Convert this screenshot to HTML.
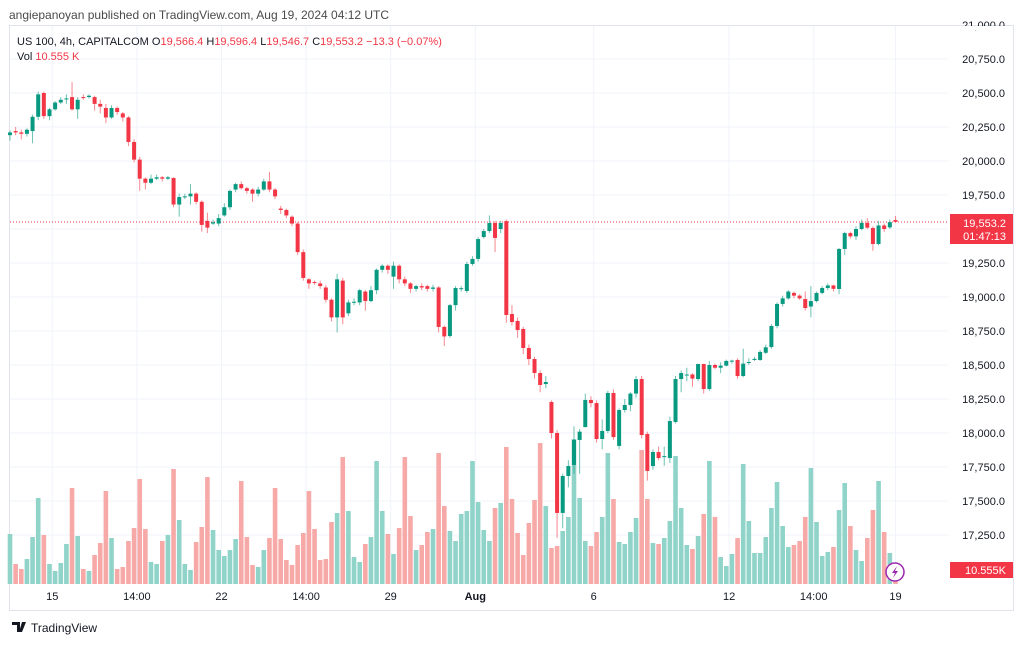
<!DOCTYPE html>
<html><head><meta charset="utf-8"><style>
body{margin:0;background:#fff;width:1024px;height:643px;overflow:hidden;font-family:"Liberation Sans",sans-serif}
svg text{font-family:"Liberation Sans",sans-serif}
</style></head><body>
<svg id="c" width="1024" height="643" viewBox="0 0 1024 643" xmlns="http://www.w3.org/2000/svg">
<text x="9" y="19" font-size="12" fill="#4a4a4a">angiepanoyan published on TradingView.com, Aug 19, 2024 04:12 UTC</text>
<rect x="9.5" y="25.5" width="1004" height="585" fill="none" stroke="#e0e3eb"/>
<g id="grid"></g>
<line x1="10" y1="222" x2="948" y2="222" stroke="#f23645" stroke-dasharray="1,2" stroke-width="1"/>
<g id="vols"></g>
<g id="candles"></g>
<g id="yaxis"></g>
<g id="xaxis"></g>
<g>
<text x="17" y="45" font-size="11" fill="#131722">US 100, 4h, CAPITALCOM <tspan fill="#131722">O</tspan><tspan fill="#f23645">19,566.4</tspan> <tspan fill="#131722">H</tspan><tspan fill="#f23645">19,596.4</tspan> <tspan fill="#131722">L</tspan><tspan fill="#f23645">19,546.7</tspan> <tspan fill="#131722">C</tspan><tspan fill="#f23645">19,553.2 −13.3 (−0.07%)</tspan></text>
<text x="17" y="60" font-size="11" fill="#131722">Vol <tspan fill="#f23645">10.555 K</tspan></text>
</g>
<g>
<rect x="950" y="214" width="63" height="30" fill="#f23645"/>
<text x="1006" y="227" font-size="11" fill="#fff" text-anchor="end">19,553.2</text>
<text x="1006" y="240" font-size="11" fill="#fff" text-anchor="end">01:47:13</text>
</g>
<g>
<rect x="950" y="562" width="63" height="16" fill="#f23645"/>
<text x="1006" y="574" font-size="11" fill="#fff" text-anchor="end">10.555K</text>
</g>
<g>
<circle cx="895" cy="572" r="9" fill="#fff" stroke="#9c27b0" stroke-width="1.5"/>
<path d="M897 566 L892 573 L895 573 L893 578 L898 571 L895 571 Z" fill="#9c27b0"/>
</g>
<g>
<path d="M12 622 h8 v10 h-3 v-7 h-5 z M22 622 h4 l-4 10 h-3 z" fill="#131722"/>
<text x="31" y="632" font-size="12" fill="#131722">TradingView</text>
</g>
</svg>
<script>
const priceTicks=[17250,17500,17750,18000,18250,18500,18750,19000,19250,19500,19750,20000,20250,20500,20750,21000];
const timeLabels=["15","14:00","22","14:00","29","Aug","6","12","14:00","19"];
const timeLabelIdx=[7.5,22.5,37.5,52.5,67.5,82.5,103.5,127.5,142.5,157];
const opens=[20190,20220,20210,20200,20220,20325,20500,20330,20380,20430,20455,20470,20380,20470,20470,20470,20420,20390,20320,20390,20350,20320,20140,20010,19870,19840,19870,19880,19870,19875,19680,19735,19740,19760,19700,19560,19540,19540,19600,19660,19790,19830,19800,19790,19760,19790,19850,19790,19650,19640,19590,19540,19330,19130,19110,19100,19070,18980,18850,19120,18880,18960,18960,19040,18970,19050,19200,19230,19150,19230,19130,19100,19060,19080,19080,19060,19070,18780,18713,18940,19060,19044,19243,19280,19441,19485,19544,19500,19558,18875,18824,18765,18625,18544,18441,18360,18228,18000,17412,17684,17765,17949,18044,18243,18220,17956,18015,18294,17905,18169,18206,18290,18397,17993,17757,17860,17825,17816,18081,18397,18425,18430,18397,18507,18323,18500,18480,18495,18528,18537,18419,18518,18537,18537,18590,18632,18787,18949,18990,19030,19010,18985,18930,18970,19030,19066,19085,19059,19353,19470,19446,19500,19545,19507,19390,19526,19512,19566];
const closes=[20210,20210,20200,20230,20325,20490,20330,20380,20430,20450,20460,20380,20450,20465,20480,20420,20400,20320,20390,20360,20320,20140,20010,19870,19840,19870,19880,19870,19880,19680,19735,19740,19760,19700,19530,19510,19550,19580,19660,19780,19830,19800,19780,19760,19790,19850,19790,19740,19640,19600,19540,19330,19140,19100,19105,19080,18980,18850,19130,18850,18960,18965,19050,18970,19050,19200,19230,19200,19230,19130,19100,19060,19080,19070,19060,19070,18780,18710,18940,19066,19065,19243,19280,19426,19485,19544,19434,19544,18868,18816,18757,18625,18544,18441,18353,18375,18000,17412,17684,17757,17949,18010,18243,18220,17956,18015,18294,17970,18169,18206,18290,18396,17985,17721,17860,17816,17830,18088,18397,18441,18430,18400,18507,18323,18500,18480,18495,18530,18532,18419,18510,18522,18545,18596,18630,18787,18949,18990,19040,19010,18990,18919,18970,19030,19066,19085,19060,19353,19470,19446,19500,19545,19510,19390,19526,19500,19550,19553];
const highs=[20225,20250,20230,20240,20340,20510,20510,20390,20440,20470,20490,20580,20470,20490,20490,20480,20450,20420,20410,20400,20360,20330,20160,20030,19880,19900,19900,19890,19890,19880,19760,19760,19830,19770,19710,19620,19570,19610,19690,19790,19840,19850,19810,19800,19810,19870,19920,19800,19670,19650,19600,19550,19350,19140,19120,19120,19090,18990,19170,19140,18980,18990,19060,19050,19080,19210,19240,19240,19260,19240,19150,19110,19090,19100,19090,19090,19080,18790,18950,19080,19080,19260,19300,19440,19500,19600,19560,19560,19570,18940,18850,18780,18650,18560,18460,18420,18240,18020,17700,17800,18050,18030,18290,18270,18240,18100,18310,18320,18180,18250,18300,18420,18420,18010,17880,17900,17900,18120,18420,18460,18480,18440,18510,18510,18530,18510,18520,18540,18540,18550,18620,18550,18560,18610,18650,18800,18960,19010,19050,19040,19020,19040,19080,19040,19080,19100,19090,19360,19480,19480,19520,19570,19580,19520,19560,19540,19570,19596];
const lows=[20150,20190,20160,20180,20130,20300,20310,20300,20370,20420,20420,20370,20310,20450,20460,20370,20350,20280,20310,20340,20290,20110,19990,19780,19790,19830,19860,19850,19860,19660,19590,19720,19680,19680,19480,19470,19530,19520,19590,19640,19770,19790,19760,19700,19740,19780,19770,19720,19610,19580,19520,19310,19120,19060,19090,19060,18960,18820,18740,18800,18860,18940,18940,18900,18960,19020,19180,19170,19060,19100,19080,19030,19040,19050,19040,19040,18740,18640,18700,18900,19040,19030,19230,19260,19430,19470,19330,19470,18810,18790,18700,18580,18500,18400,18300,18330,17960,17230,17300,17600,17700,17700,18040,18190,17930,17880,18000,17950,17880,18150,18160,18260,17960,17650,17730,17800,17760,17780,18070,18300,18380,18340,18380,18290,18310,18470,18440,18490,18510,18400,18410,18500,18530,18530,18580,18620,18770,18930,18980,18990,18980,18900,18850,18960,19020,19050,19040,19020,19310,19430,19420,19490,19500,19340,19380,19480,19500,19547];
const volumes=[50,20,15,25,47,86,49,20,13,21,40,96,48,15,13,29,41,93,46,15,17,43,56,105,55,22,20,43,49,115,64,20,14,42,57,107,54,34,28,34,45,103,47,19,17,34,46,96,45,24,19,39,51,93,55,24,25,62,71,127,73,27,22,40,47,123,73,50,30,56,127,68,34,39,52,55,131,78,53,43,70,73,123,82,54,43,76,81,137,85,51,29,61,84,141,78,36,38,53,67,145,86,43,38,52,67,131,85,42,40,52,66,134,85,41,40,46,63,128,76,39,35,48,70,123,67,27,18,30,46,120,63,31,31,47,76,102,58,37,39,43,67,116,62,28,32,37,74,101,58,34,23,46,74,103,52,31,19];

const NS="http://www.w3.org/2000/svg";
const X0=10,STEP=5.64,PLOT_R=948,VBASE=584;
function xOf(i){return X0+STEP*i;}
function yOf(p){return 93+(20500-p)*0.136;}
function vyOf(v){return VBASE-v;}
function mk(tag,attrs,parent){const e=document.createElementNS(NS,tag);for(const k in attrs)e.setAttribute(k,attrs[k]);parent.appendChild(e);return e;}
const grid=document.getElementById('grid'),yax=document.getElementById('yaxis'),xax=document.getElementById('xaxis');
const cg=document.getElementById('candles'),vg=document.getElementById('vols');
priceTicks.forEach(p=>{const y=yOf(p);
 if(y>27){const l=mk('line',{x1:10,x2:PLOT_R,y1:y,y2:y,stroke:'#f0f3fa'},grid);
 
 }
 const t=mk('text',{x:1005,y:y+4,'font-size':11,fill:'#131722','text-anchor':'end'},yax);
 t.textContent=p.toLocaleString('en-US')+'.0';
 
 
});
mk('rect',{x:948,y:26,width:65,height:4,fill:'#fff'},yax);
timeLabels.forEach((s,k)=>{const x=xOf(timeLabelIdx[k]);
 const l=mk('line',{x1:x,x2:x,y1:26,y2:584,stroke:'#f0f3fa'},grid);
 
 
 const t=mk('text',{x:x,y:600,'font-size':11,fill:'#131722','text-anchor':'middle','font-weight':s==='Aug'?'bold':'normal'},xax);
 t.textContent=s;
 
 
});
volumes.forEach((v,i)=>{const up=closes[i]>=opens[i];
 const r=mk('rect',{x:xOf(i)-2.3,y:vyOf(v),width:4.6,height:v,fill:up?'#8fd3c9':'#f7a9a7'},vg);
 
 
});
opens.forEach((o,i)=>{const c=closes[i],up=c>=o,col=up?'#089981':'#f23645',x=xOf(i);
 const g=mk('g',{},cg);
 
 
 mk('line',{x1:x,x2:x,y1:yOf(highs[i]),y2:yOf(lows[i]),stroke:col,'stroke-width':1,opacity:0.6},g);
 const yt=yOf(Math.max(o,c)),yb=yOf(Math.min(o,c));
 mk('rect',{x:x-2,y:yt,width:4,height:Math.max(1,yb-yt),fill:col},g);
});
</script>
</body></html>
